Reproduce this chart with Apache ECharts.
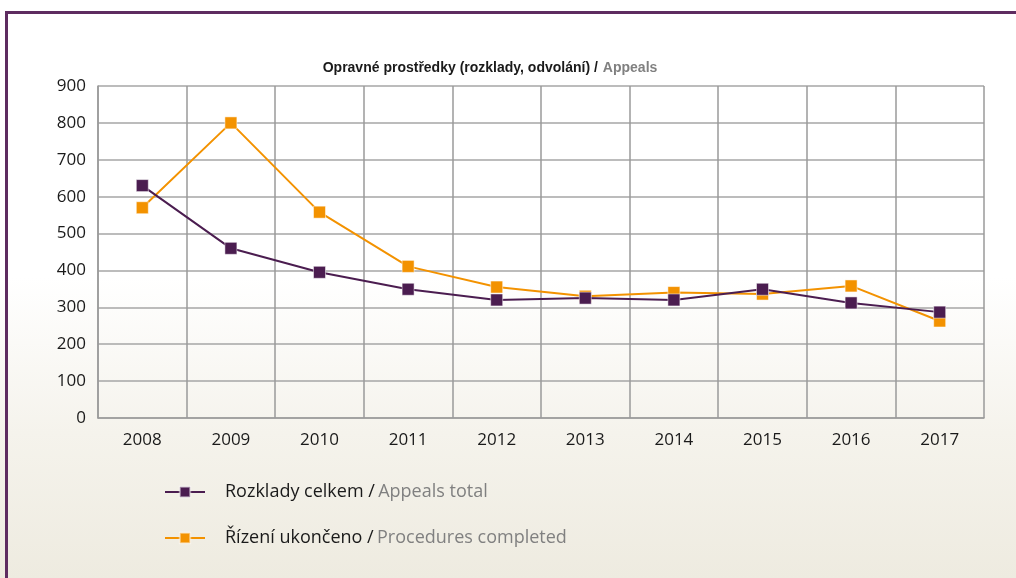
<!DOCTYPE html>
<html>
<head>
<meta charset="utf-8">
<script src="https://cdn.jsdelivr.net/npm/echarts@6/dist/echarts.min.js"></script>
<style>
  html, body { margin: 0; padding: 0; }
  body {
    width: 1016px; height: 578px; overflow: hidden; position: relative;
    background: linear-gradient(to bottom, #ffffff 0%, #ffffff 48%, #f5f3ec 75%, #eeebe0 100%);
  }
  .frame {
    position: absolute; left: 5px; top: 11px; right: 0; bottom: 0;
    border-top: 3px solid #5e2c60; border-left: 3px solid #5e2c60;
  }
  #chart { position: absolute; left: 0; top: 0; width: 1016px; height: 578px; }
</style>
</head>
<body>
<div class="frame"></div>
<div id="chart"></div>
<script>
const years = ['2008', '2009', '2010', '2011', '2012', '2013', '2014', '2015', '2016', '2017']
const appealsTotal = [630, 460, 395, 349, 320, 325, 320, 349, 312, 287]
const proceduresCompleted = [570, 800, 558, 411, 355, 330, 340, 336, 358, 263]

const seriesNames = ['Rozklady celkem / Appeals total', 'Řízení ukončeno / Procedures completed']
const purple = '#4b1d50'
const orange = '#f39200'

const chart = echarts.init(document.getElementById('chart'))

const splitName = (name) => {
  const parts = name.split(' / ')
  return `{a|${parts[0]} /} {b|${parts[1]}}`
}

const option = {
  backgroundColor: 'transparent',
  animation: false,
  title: {
    text: '{a|Opravné prostředky (rozklady, odvolání) /} {b|Appeals}',
    left: 485,
    textAlign: 'center',
    top: 54,
    textStyle: {
      rich: {
        a: { fontFamily: 'Liberation Sans Narrow, Arial Narrow, Liberation Sans', fontWeight: 'bold', fontSize: 14, color: '#1a1a1a' },
        b: { fontFamily: 'Liberation Sans Narrow, Arial Narrow, Liberation Sans', fontWeight: 'bold', fontSize: 14, color: '#808080' }
      }
    }
  },
  grid: { left: 98, right: 32, top: 86, bottom: 160, containLabel: false },
  legend: {
    orient: 'vertical',
    left: 159,
    top: 478,
    itemWidth: 40,
    itemHeight: 13,
    itemGap: 28,
    formatter: splitName,
    data: seriesNames,
    textStyle: {
      padding: [0, 0, 0, 15],
      rich: {
        a: { fontFamily: 'Open Sans', fontSize: 18, color: '#1a1a1a' },
        b: { fontFamily: 'Open Sans', fontSize: 18, color: '#808080' }
      }
    }
  },
  xAxis: {
    type: 'category',
    data: years,
    boundaryGap: true,
    axisLine: { lineStyle: { color: '#9a9a9a', width: 1.5 } },
    axisTick: { show: false },
    axisLabel: { color: '#1a1a1a', fontFamily: 'Open Sans', fontSize: 17, margin: 14 },
    splitLine: { show: true, lineStyle: { color: '#9a9a9a', width: 1.5 } }
  },
  yAxis: {
    type: 'value',
    min: 0,
    max: 900,
    interval: 100,
    axisLine: { show: true, lineStyle: { color: '#9a9a9a', width: 1.5 } },
    axisTick: { show: false },
    axisLabel: { color: '#1a1a1a', fontFamily: 'Open Sans', fontSize: 17, margin: 12 },
    splitLine: { lineStyle: { color: '#a6a6a6', width: 1.5 } }
  },
  series: [
    {
      name: seriesNames[0],
      type: 'line',
      data: appealsTotal,
      symbol: 'rect',
      symbolSize: 12,
      color: purple,
      lineStyle: { color: purple, width: 2 },
      itemStyle: { color: purple, borderColor: 'rgba(255,255,255,0.5)', borderWidth: 1 },
      z: 3
    },
    {
      name: seriesNames[1],
      type: 'line',
      data: proceduresCompleted,
      symbol: 'rect',
      symbolSize: 12,
      color: orange,
      lineStyle: { color: orange, width: 2 },
      itemStyle: { color: orange, borderColor: 'rgba(255,255,255,0.5)', borderWidth: 1 },
      z: 2
    }
  ]
}

chart.setOption(option)
</script>
</body>
</html>
